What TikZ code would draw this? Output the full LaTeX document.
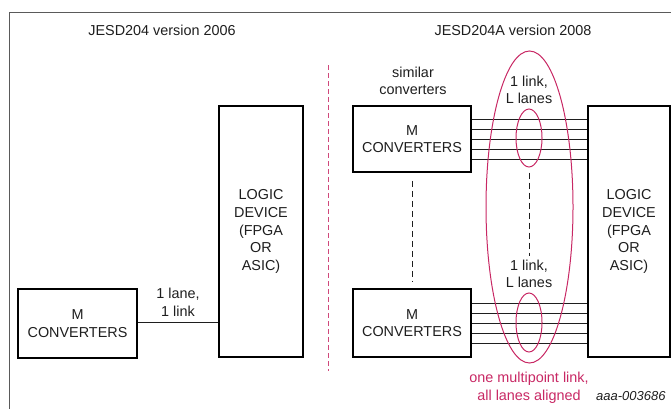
\documentclass[tikz,border=0pt]{standalone}
\usepackage{fontspec}
\setmainfont{Liberation Sans}
\usetikzlibrary{shapes.geometric}
\definecolor{jred}{RGB}{200,40,100}
\definecolor{frameg}{RGB}{90,90,90}
\definecolor{txt}{RGB}{30,30,30}
\begin{document}
\begin{tikzpicture}[x=1pt, y=-1pt,
  every node/.style={font=\fontsize{14.4}{17.6}\selectfont},
  box/.style={draw, line width=1.6pt, align=center, inner sep=0pt, text=txt},
  lbl/.style={align=center, inner sep=0pt, text=txt},
  lane/.style={line width=0.8pt, draw=txt},
  loop/.style={draw=jred, ellipse, line width=1pt, inner sep=0pt}]
\clip (0,0) rectangle (671,408);
% Moldura
\draw[frameg, line width=0.9pt] (9.5,12) rectangle (700,440);

% Titulos
\node[lbl] (tit1) at (162,30) {JESD204 version 2006};
\node[lbl] (tit2) at (513,30) {JESD204A version 2008};
\draw[jred!85, line width=0.8pt, dash pattern=on 5pt off 3pt] (328,65) -- (328,371);

% Versao 2006
\node[box, minimum width=84pt, minimum height=251pt] (logicL) at (261,231.5) {LOGIC\\DEVICE\\(FPGA\\OR\\ASIC)};
\node[box, minimum width=119pt, minimum height=69pt] (convL) at (77.5,323.5) {M\\CONVERTERS};
\draw[lane] (convL.east |- 0,322) -- (logicL.west |- 0,322);
\node[lbl] (laneL) at (178,302) {1 lane,\\1 link};

% Versao 2008
\node[box, minimum width=118pt, minimum height=66pt] (convT) at (412,139) {M\\CONVERTERS};
\node[box, minimum width=118pt, minimum height=68pt] (convB) at (412,323) {M\\CONVERTERS};
\node[box, minimum width=82pt, minimum height=251pt] (logicR) at (629,231.5) {LOGIC\\DEVICE\\(FPGA\\OR\\ASIC)};
\node[lbl] (simil) at (413,81) {similar\\converters};

% Lanes
\foreach \dy in {-20,-10,0,10,20} {
  \draw[lane] ([yshift=\dy pt]convT.east) -- ([yshift=\dy pt]convT.east -| logicR.west);
  \draw[lane] ([yshift=\dy pt]convB.east) -- ([yshift=\dy pt]convB.east -| logicR.west);
}
\node[loop, minimum width=26pt, minimum height=58pt] (lanesT) at (529,138) {};
\node[loop, minimum width=26pt, minimum height=59pt] (lanesB) at (529,322.5) {};
\node[loop, minimum width=87pt, minimum height=312pt] (mlink) at (529.5,207) {};
\node[lbl] (linkT) at (529,90) {1 link,\\L lanes};
\node[lbl] (linkB) at (529,274) {1 link,\\L lanes};

% Tracejados
\draw[txt, line width=0.8pt, dash pattern=on 6pt off 4pt, shorten <=8pt, shorten >=7pt] (convT.south) -- (convB.north);
\draw[txt, line width=0.8pt, dash pattern=on 6pt off 4pt, shorten <=5pt, shorten >=4pt] (lanesT.south) -- (linkB.north);

% Legendas
\node[lbl, text=jred] (multi) at (529,388) {one multipoint link,\\all lanes aligned};
\node[lbl, anchor=west, font=\fontsize{13}{15}\selectfont\itshape] (code) at (596,396) {aaa-003686};
\end{tikzpicture}
\end{document}
